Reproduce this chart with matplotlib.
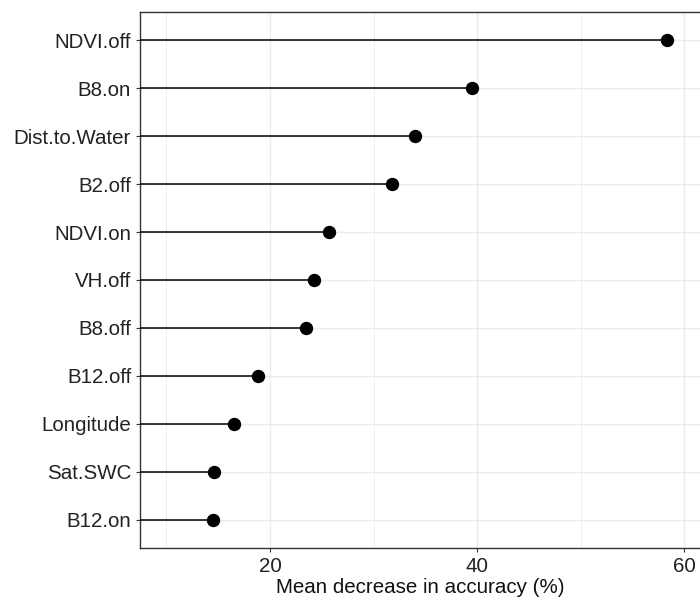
import matplotlib
matplotlib.use('Agg')
import matplotlib.pyplot as plt
from matplotlib.ticker import MultipleLocator

plt.rcParams['font.family'] = ['Liberation Sans', 'DejaVu Sans']

# variables, top to bottom
variables = ["NDVI.off", "B8.on", "Dist.to.Water", "B2.off", "NDVI.on", "VH.off",
             "B8.off", "B12.off", "Longitude", "Sat.SWC", "B12.on"]
importance = [58.3, 39.5, 34.0, 31.75, 25.7, 24.2, 23.5, 18.85, 16.55, 14.55, 14.45]

fig = plt.figure(figsize=(7, 6.05), dpi=100)
ax = fig.add_axes([0.1993, 0.0937, 0.8007, 0.887])

xmin, xmax = 7.4, 61.5
ypos = list(range(len(variables)))[::-1]

ax.hlines(ypos, xmin, importance, color='black', lw=1.1, zorder=3)
ax.plot(importance, ypos, 'o', color='black', ms=8.6, zorder=4)

ax.set_xlim(xmin, xmax)
ax.set_ylim(-0.6, len(variables) - 0.4)
ax.set_yticks(ypos)
ax.set_yticklabels(variables)
ax.xaxis.set_major_locator(MultipleLocator(20))
ax.xaxis.set_minor_locator(MultipleLocator(10))

ax.grid(which='major', color='#EBEBEB', lw=1.0, zorder=0)
ax.grid(which='minor', axis='x', color='#EBEBEB', lw=0.6, zorder=0)
ax.set_axisbelow(True)

for side in ['left', 'top', 'bottom']:
    ax.spines[side].set_color('#333333')
    ax.spines[side].set_linewidth(1.0)
ax.spines['right'].set_visible(False)

ax.tick_params(axis='both', which='major', length=3, width=0.8, color='#333333',
               labelsize=14.8, labelcolor='#222222', pad=3)
ax.tick_params(axis='x', which='minor', length=0)

ax.set_xlabel("Mean decrease in accuracy (%)", fontsize=14.8, color='#111111', labelpad=2)

fig.savefig("out.png", dpi=100)
plt.close('all')
